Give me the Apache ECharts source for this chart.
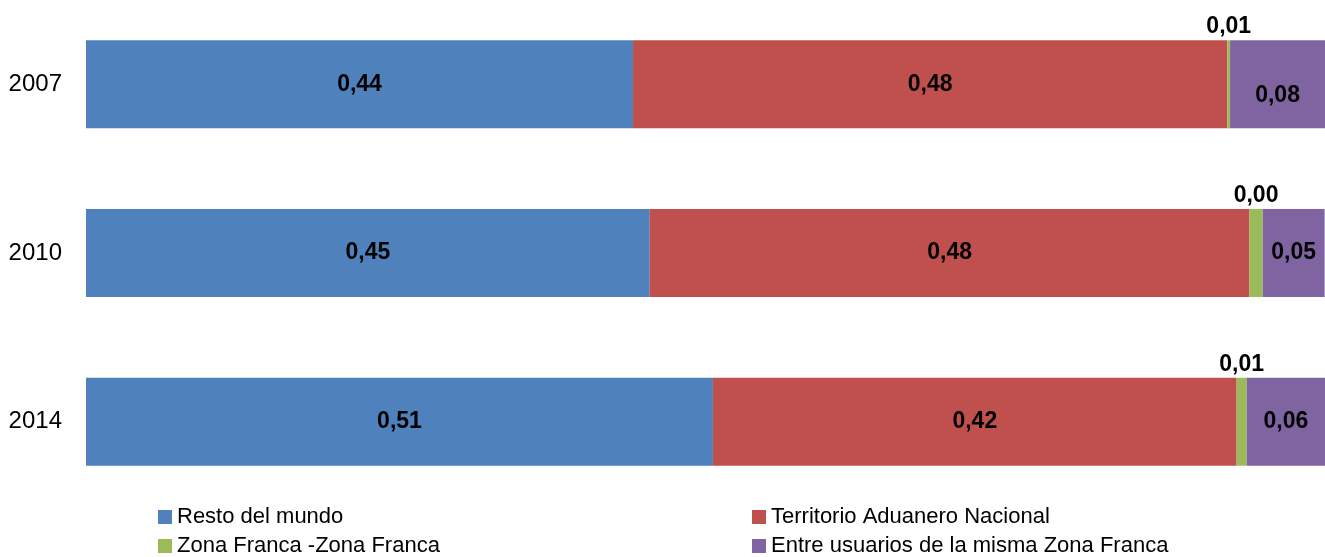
<!DOCTYPE html>
<html>
<head>
<meta charset="utf-8">
<script src="https://cdn.jsdelivr.net/npm/echarts@6/dist/echarts.min.js"></script>
<style>
html,body{margin:0;padding:0;background:#fff;}
#c{width:1325px;height:557px;}
</style>
</head>
<body>
<div id="c"></div>
<script>
var categories = ['2007', '2010', '2014'];
var seriesNames = ['Resto del mundo', 'Territorio Aduanero Nacional', 'Zona Franca -Zona Franca', 'Entre usuarios de la misma Zona Franca'];
var restoDelMundo = [0.4415, 0.455, 0.506];
var territorioAduanero = [0.4797, 0.484, 0.4227];
var zonaFranca = [0.0022, 0.0107, 0.0081];
var entreUsuarios = [0.0767, 0.050, 0.0632];
var restoLabels = ['0,44', '0,45', '0,51'];
var territorioLabels = ['0,48', '0,48', '0,42'];
var zonaLabels = ['0,01', '0,00', '0,01'];
var entreLabels = ['0,08', '0,05', '0,06'];

var colors = ['#4F81BD', '#C0504D', '#9BBB59', '#8064A2'];
var values = [restoDelMundo, territorioAduanero, zonaFranca, entreUsuarios];
var labels = [restoLabels, territorioLabels, zonaLabels, entreLabels];
var FONT = '"Liberation Sans", Arial, sans-serif';

var chart = echarts.init(document.getElementById('c'), null, {renderer: 'canvas'});

var series = values.map(function (vals, si) {
  return {
    name: seriesNames[si],
    type: 'bar',
    stack: 'total',
    barWidth: 88,
    itemStyle: {color: colors[si]},
    label: {
      show: true,
      position: si === 2 ? 'top' : 'inside',
      distance: 2,
      color: '#000',
      fontFamily: FONT,
      fontWeight: 'bold',
      fontSize: 23,
      formatter: function (p) { return labels[si][p.dataIndex]; }
    },
    emphasis: {disabled: true},
    data: vals.map(function (v, di) {
      if (si === 3 && di === 0) {
        return {value: v, label: {offset: [0, 11]}};
      }
      return v;
    })
  };
});

var legendPos = [[158, 506], [752, 506], [158, 535], [752, 535]];
var legends = seriesNames.map(function (name, i) {
  return {
    data: [name],
    orient: 'horizontal',
    left: legendPos[i][0],
    top: legendPos[i][1],
    padding: 0,
    itemWidth: 14,
    itemHeight: 14,
    itemGap: 0,
    icon: 'rect',
    selectedMode: false,
    textStyle: {color: '#000', fontFamily: FONT, fontSize: 22}
  };
});

chart.setOption({
  animation: false,
  color: colors,
  grid: {left: 86, right: 0, top: 0, height: 506, containLabel: false},
  xAxis: {type: 'value', min: 0, max: 1, show: false},
  yAxis: {
    type: 'category',
    data: categories,
    inverse: true,
    axisLine: {show: false},
    axisTick: {show: false},
    splitLine: {show: false},
    axisLabel: {color: '#000', fontFamily: FONT, fontSize: 24, margin: 24}
  },
  legend: legends,
  series: series
});
</script>
</body>
</html>
